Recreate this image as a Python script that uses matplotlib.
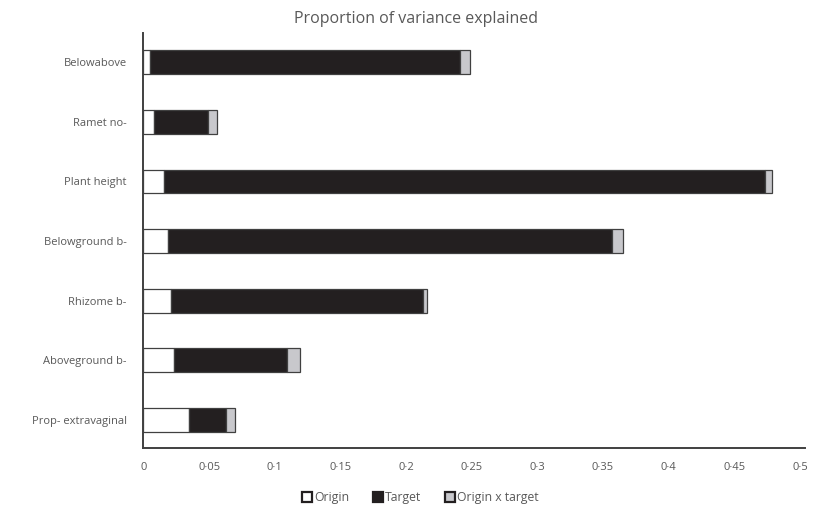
import matplotlib.pyplot as plt
import numpy as np

# traits, listed top to bottom
traits = ['Belowabove', 'Ramet no-', 'Plant height', 'Belowground b-',
          'Rhizome b-', 'Aboveground b-', 'Prop- extravaginal']

# proportion of variance explained by each component
origin = [0.005, 0.008, 0.016, 0.019, 0.021, 0.023, 0.035]
target = [0.236, 0.041, 0.457, 0.338, 0.192, 0.086, 0.028]
origin_x_target = [0.008, 0.007, 0.006, 0.008, 0.003, 0.010, 0.007]

xticks = [0, 0.05, 0.1, 0.15, 0.2, 0.25, 0.3, 0.35, 0.4, 0.45, 0.5]
xticklabels = ['0', '0·05', '0·1', '0·15', '0·2', '0·25', '0·3', '0·35', '0·4', '0·45', '0·5']

plt.rcParams['font.family'] = ['Open Sans', 'DejaVu Sans']
text_col = '#595959'
edge_col = '#404040'

fig = plt.figure(figsize=(8.15, 5.09), dpi=100)
ax = fig.add_axes([0.176, 0.120, 0.812, 0.815])

y = np.arange(len(traits))[::-1]
origin = np.array(origin)
target = np.array(target)
inter = np.array(origin_x_target)

ax.barh(y, origin, height=0.4, color='white', edgecolor=edge_col, linewidth=0.9, label='Origin')
ax.barh(y, target, left=origin, height=0.4, color='#231f20', edgecolor=edge_col,
        linewidth=0.9, label='Target')
ax.barh(y, inter, left=origin + target, height=0.4, color='#c8c8cc', edgecolor=edge_col,
        linewidth=0.9, label='Origin x target')

ax.set_xlim(0, 0.504)
ax.set_ylim(-0.47, 6.49)
ax.set_yticks(y)
ax.set_yticklabels(traits)
ax.set_xticks(xticks)
ax.set_xticklabels(xticklabels)
ax.tick_params(axis='both', length=0, labelsize=8, colors=text_col)
ax.tick_params(axis='y', pad=12)
ax.tick_params(axis='x', pad=10)

for side in ['top', 'right']:
    ax.spines[side].set_visible(False)
for side in ['left', 'bottom']:
    ax.spines[side].set_color(edge_col)
    ax.spines[side].set_linewidth(1.4)

fig.text(0.511, 0.962, 'Proportion of variance explained', ha='center', va='center',
         fontsize=11.5, color=text_col)

leg = fig.legend(loc='center', bbox_to_anchor=(0.516, 0.023), ncol=3, frameon=False,
                 fontsize=8.8, handlelength=0.8, handleheight=0.9, handletextpad=0.2,
                 columnspacing=1.9, labelcolor=text_col)
for h in leg.legend_handles:
    h.set_linewidth(1.6)
    h.set_edgecolor('#231f20')

plt.savefig('out.png', dpi=100)
